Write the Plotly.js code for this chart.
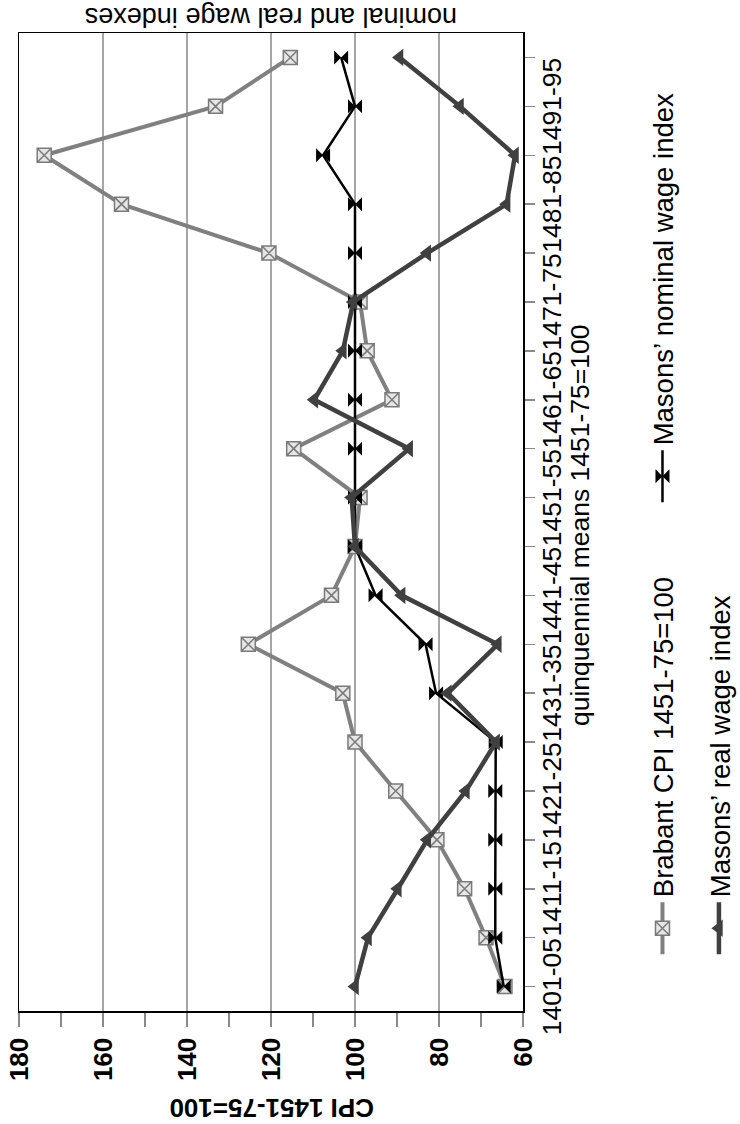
<!DOCTYPE html>
<html>
<head>
<meta charset="utf-8">
<script src="https://cdn.plot.ly/plotly-3.0.1.min.js"></script>
<style>
  html, body { margin: 0; padding: 0; width: 740px; height: 1124px; overflow: hidden; background: #fff; }
  #wrap { position: absolute; left: 0; top: 0; width: 1124px; height: 740px;
          transform-origin: 0 0; transform: translate(0px, 1124px) rotate(-90deg); }
</style>
</head>
<body>
<div id="wrap"></div>
<script>
// Quinquennial periods (20), labelled every second period
const categories = ['1401-05','1406-10','1411-15','1416-20','1421-25','1426-30','1431-35','1436-40','1441-45','1446-50',
                    '1451-55','1456-60','1461-65','1466-70','1471-75','1476-80','1481-85','1486-90','1491-95','1496-1500'];
const cpi     = [64.3, 68.8, 73.9, 80.5, 90.3, 100.0, 102.9, 125.4, 105.6, 100.0, 98.8, 114.6, 91.2, 97.1, 98.8, 120.5, 155.6, 174.0, 133.2, 115.4];
const nominal = [64.6, 66.6, 66.6, 66.6, 66.6, 66.5, 80.7, 83.2, 95.1, 100.0, 100.0, 100.0, 100.0, 100.0, 100.0, 100.0, 100.0, 107.6, 100.0, 103.3];
const real    = [100.0, 96.9, 89.8, 82.8, 73.6, 66.4, 77.9, 66.0, 88.9, 100.0, 100.8, 87.1, 109.7, 102.9, 100.4, 82.8, 63.9, 61.9, 75.0, 89.4];
const tickLabels = categories.map((c, i) => (i % 2 === 0 ? c : ''));
const seriesNames = ['Brabant CPI 1451-75=100', 'Masons\u2019 nominal wage index', 'Masons\u2019 real wage index'];
const titles = { y: 'CPI 1451-75=100', y2: 'nominal and real wage indexes', x: 'quinquennial means 1451-75=100' };

const FONT = 'Liberation Sans, Arial, Helvetica, sans-serif';
const TICKGRAY = '#8a8a8a';

const traces = [
  { x: categories, y: cpi, name: seriesNames[0], type: 'scatter', mode: 'lines+markers', legend: 'legend',
    line: { color: '#808080', width: 4 },
    marker: { symbol: 'square-x', size: 14, color: '#e6e6e6', line: { color: '#7a7a7a', width: 1.5 } } },
  { x: categories, y: nominal, name: seriesNames[1], type: 'scatter', mode: 'lines+markers', legend: 'legend2',
    line: { color: '#000000', width: 2.5 },
    marker: { symbol: 'hourglass', size: 14, color: '#000000' } },
  { x: categories, y: real, name: seriesNames[2], type: 'scatter', mode: 'lines+markers', legend: 'legend3',
    line: { color: '#404040', width: 4.5 },
    marker: { symbol: 'triangle-up', size: 15, color: '#404040' } }
];

const legendBase = { orientation: 'h', xanchor: 'left', yanchor: 'middle', itemwidth: 52,
  font: { family: FONT, size: 27.5, color: '#000' }, bgcolor: 'rgba(0,0,0,0)', borderwidth: 0 };

const layout = {
  width: 1124, height: 740,
  margin: { l: 113, r: 33, t: 19, b: 217, autoexpand: false },
  paper_bgcolor: '#ffffff', plot_bgcolor: '#ffffff',
  font: { family: FONT, color: '#000' },
  showlegend: true,
  xaxis: {
    type: 'category', range: [-0.5, 19.5],
    tickmode: 'array', tickvals: categories, ticktext: tickLabels, tickangle: 0,
    ticks: 'outside', ticklen: 10, tickwidth: 1.5, tickcolor: TICKGRAY, ticklabelstandoff: -5,
    tickfont: { family: FONT, size: 26.5, color: '#000' },
    showline: true, linecolor: '#000', linewidth: 1.5, mirror: true,
    showgrid: false, zeroline: false, automargin: false
  },
  // overlay axis only to draw the inner half of the crossing category tick marks
  xaxis2: {
    overlaying: 'x', anchor: 'y', side: 'bottom', range: [-0.5, 19.5], tick0: 0, dtick: 1,
    ticks: 'inside', ticklen: 8, tickwidth: 1.5, tickcolor: TICKGRAY,
    showticklabels: false, showgrid: false, showline: false, zeroline: false, automargin: false
  },
  yaxis: {
    range: [60, 180], dtick: 20, tick0: 60,
    ticks: 'outside', ticklen: 14, tickwidth: 1.5, tickcolor: TICKGRAY, ticklabelstandoff: 6,
    minor: { dtick: 10, ticks: 'outside', ticklen: 14, tickwidth: 1.5, tickcolor: TICKGRAY, showgrid: false },
    tickfont: { family: FONT, size: 26, weight: 'bold', color: '#000' },
    showgrid: true, gridcolor: '#a6a6a6', gridwidth: 1.5,
    showline: true, linecolor: '#000', linewidth: 1.5, mirror: true, zeroline: false, automargin: false
  },
  // overlay axis only to draw the inner half of the crossing value tick marks
  yaxis2: {
    overlaying: 'y', anchor: 'x', side: 'left', range: [60, 180], tick0: 60, dtick: 10,
    ticks: 'inside', ticklen: 8, tickwidth: 1.5, tickcolor: TICKGRAY,
    showticklabels: false, showgrid: false, showline: false, zeroline: false, automargin: false
  },
  legend: Object.assign({}, legendBase, { x: 0.053, y: -0.277 }),
  legend2: Object.assign({}, legendBase, { x: 0.515, y: -0.277 }),
  legend3: Object.assign({}, legendBase, { x: 0.053, y: -0.389 }),
  annotations: [
    { text: titles.y, xref: 'paper', yref: 'paper', x: -0.0992, y: 0.5, textangle: -90, showarrow: false,
      xanchor: 'center', yanchor: 'middle', font: { family: FONT, size: 26, weight: 'bold', color: '#000' } },
    { text: titles.y2, xref: 'paper', yref: 'paper', x: 1.0164, y: 0.5, textangle: -90, showarrow: false,
      xanchor: 'center', yanchor: 'middle', font: { family: FONT, size: 27, color: '#000' } },
    { text: titles.x, xref: 'paper', yref: 'paper', x: 0.497, y: -0.113, showarrow: false,
      xanchor: 'center', yanchor: 'middle', font: { family: FONT, size: 26.5, color: '#000' } }
  ]
};

Plotly.newPlot('wrap', traces, layout, { displayModeBar: false, staticPlot: true });
</script>
</body>
</html>
